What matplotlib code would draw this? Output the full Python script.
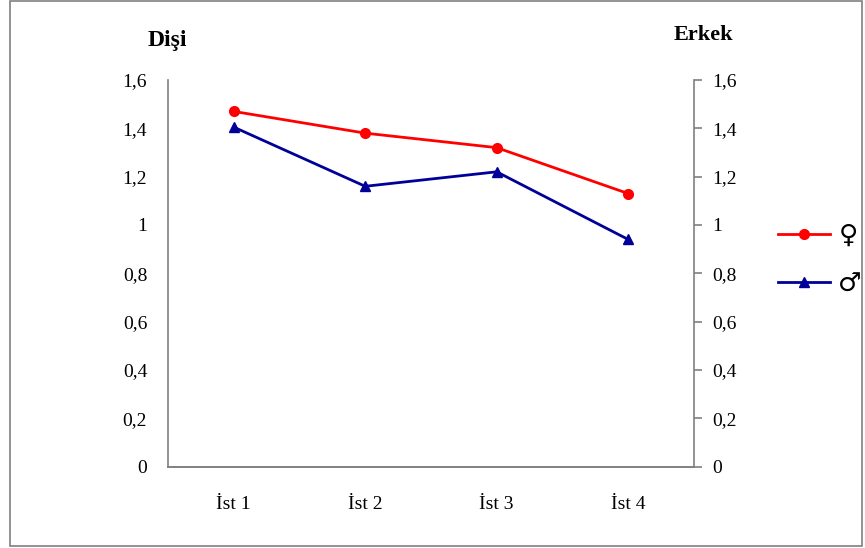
import matplotlib
matplotlib.use('Agg')
import matplotlib.pyplot as plt
from matplotlib.patches import Rectangle

# data
stations = ['İst 1', 'İst 2', 'İst 3', 'İst 4']
disi = [1.47, 1.38, 1.32, 1.13]
erkek = [1.405, 1.16, 1.22, 0.94]
yticks = [0, 0.2, 0.4, 0.6, 0.8, 1.0, 1.2, 1.4, 1.6]
ytick_labels = ['0', '0,2', '0,4', '0,6', '0,8', '1', '1,2', '1,4', '1,6']

plt.rcParams['font.family'] = ['Liberation Serif', 'DejaVu Sans']

fig = plt.figure(figsize=(8.65, 5.48), dpi=100)
ax = fig.add_axes([0.1942, 0.1487, 0.608, 0.7053])
ax2 = ax.twinx()

x = range(len(stations))
l1, = ax.plot(x, disi, color='#ff0000', lw=2, marker='o', ms=7, label='♀')
l2, = ax2.plot(x, erkek, color='#000099', lw=2, marker='^', ms=7, label='♂')

for a in (ax, ax2):
    a.set_ylim(0, 1.6)
    a.set_xlim(-0.5, 3.5)
    a.set_yticks(yticks)
    a.set_yticklabels(ytick_labels)
    for s in a.spines.values():
        s.set_color('#808080')
        s.set_linewidth(1.2)
    a.spines['top'].set_visible(False)

ax.spines['right'].set_visible(False)
ax2.spines['left'].set_visible(False)
ax2.spines['right'].set_visible(True)

ax.set_xticks(list(x))
ax.set_xticklabels(stations)
ax.tick_params(axis='x', length=0, pad=21, labelsize=14)
ax.tick_params(axis='y', length=0, pad=15, labelsize=14)
ax2.tick_params(axis='y', length=6, width=1.2, color='#808080', pad=7, labelsize=14)

fig.text(0.193, 0.926, 'Dişi', ha='center', va='center', fontsize=17, fontweight='bold')
fig.text(0.813, 0.937, 'Erkek', ha='center', va='center', fontsize=16, fontweight='bold')

fig.legend(handles=[l1, l2], loc='center left', bbox_to_anchor=(0.899, 0.525),
           frameon=False, handlelength=2.0, labelspacing=0.85,
           handletextpad=0.3, borderaxespad=0, borderpad=0,
           prop={'family': ['DejaVu Sans'], 'size': 19})

# thin frame round the whole picture
fig.patches.append(Rectangle((0.011, 0.004), 0.985, 0.994, transform=fig.transFigure,
                             fill=False, edgecolor='#808080', lw=1.2))

fig.savefig('out.png', dpi=100)
